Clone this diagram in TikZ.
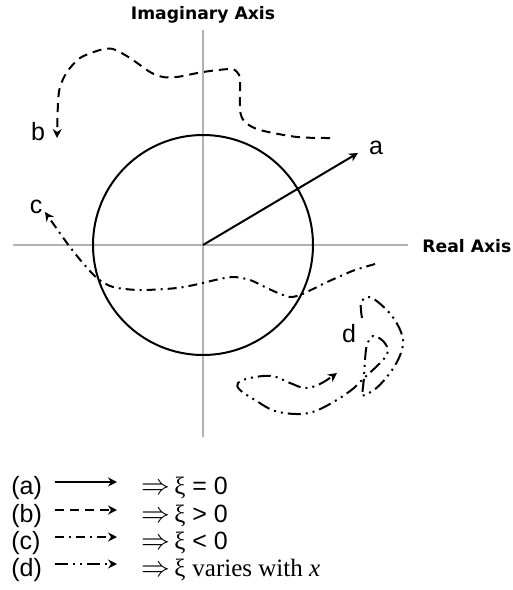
\documentclass[tikz,border=0pt]{standalone}
\usepackage{fontspec}
\setmainfont{Liberation Sans}
\newfontfamily\axisfont{DejaVu Sans}
\newfontfamily\greekfont{Liberation Serif}
\usetikzlibrary{arrows.meta}

\begin{document}
\begin{tikzpicture}[
    x=0.5pt, y=-0.5pt,
    every node/.style={font=\fontsize{12.5}{15}\selectfont, inner sep=0pt},
    axis/.style={gray!60, line width=0.8pt},
    axislabel/.style={font=\axisfont\bfseries\fontsize{8.6}{10}\selectfont},
    tip/.style={-{Stealth[length=4.5pt,width=4.5pt]}},
    apath/.style={tip, line width=1pt},
    bpath/.style={tip, line width=1pt, dash pattern=on 4.5pt off 3pt},
    cpath/.style={tip, line width=1pt, dash pattern=on 4.5pt off 2.5pt on 1pt off 2.5pt},
    dpath/.style={tip, line width=1pt, dash pattern=on 6.5pt off 2.5pt on 1pt off 2.5pt on 1pt off 2.5pt},
    ]

    \useasboundingbox (0,0) rectangle (513,590);

    % axes
    \coordinate (O) at (203,245);
    \coordinate (imtop) at (203,30);
    \coordinate (imbot) at (203,437);
    \coordinate (releft) at (13,245);
    \coordinate (reright) at (408,245);
    \draw[axis] (imtop) -- (imbot);
    \draw[axis] (releft) -- (reright);
    \node[axislabel] (imlbl) at (203,15) {Imaginary Axis};
    \node[axislabel, anchor=west] (relbl) at (422,246) {Real Axis};

    \draw[line width=1pt] (O) circle[radius=55pt];

    % (a) straight
    \coordinate (atip) at (358,153);
    \draw[apath] (O) -- (atip);
    \node (alabel) at (376,148) {a};

    % (b) dashed
    \draw[bpath] plot[smooth] coordinates {(330,138) (297,137) (260,130) (245,122)
        (240,110) (240,80) (237,72) (230,69) (203,72) (177,77) (163,77) (150,72)
        (130,58) (113,49) (100,50) (80,58) (67,72) (60,87) (58,103) (57,138)};
    \node (blabel) at (38,132) {b};

    % (c) dash dot
    \draw[cpath] plot[smooth] coordinates {(375,264) (355,270) (343,275) (325,283)
        (313,289) (300,295) (290,297) (278,293) (267,288) (250,280) (233,277)
        (215,280) (203,283) (177,288) (140,290) (113,287) (97,278) (82,262)
        (67,243) (45,212)};
    \node (clabel) at (36,207) {c};

    % (d) dash dot dot
    \draw[dpath] plot[smooth, tension=0.6] coordinates {(362,318) (361,303) (368,297)
        (378,302) (392,316) (401,332) (403,345) (397,362) (386,378) (374,390) (362,396)}
      --plot[smooth, tension=0.6] coordinates {(364,378) (365,360) (367,345) (373,336)
        (383,341) (388,351) (382,361) (364,378)}
      --plot[smooth, tension=0.6] coordinates {(354,388) (340,398) (318,410) (300,414)
        (275,411) (255,400) (240,390) (238,383) (250,378) (272,376) (290,383)
        (305,388) (320,384) (337,373)};
    \node (dlabel) at (349,334) {d};

    % legend
    \foreach \y/\lbl/\sty/\txt in {494/a/apath/{= 0}, 522/b/bpath/{> 0},
                                 549/c/cpath/{< 0},
                                 576/d/dpath/{{\greekfont varies with \textit{x}}}}{
    \node[anchor=base west] (key\lbl) at (11,\y) {(\lbl)};
    \coordinate (from\lbl) at (55,{\y-12});
    \coordinate (to\lbl) at (117,{\y-12});
    \draw[\sty] (from\lbl) -- (to\lbl);
    \node[anchor=base west] (mean\lbl) at (141,\y)
        {{\fontsize{14}{16}\selectfont$\Rightarrow$}\,{\greekfont ξ} \txt};
    }

\end{tikzpicture}
\end{document}
